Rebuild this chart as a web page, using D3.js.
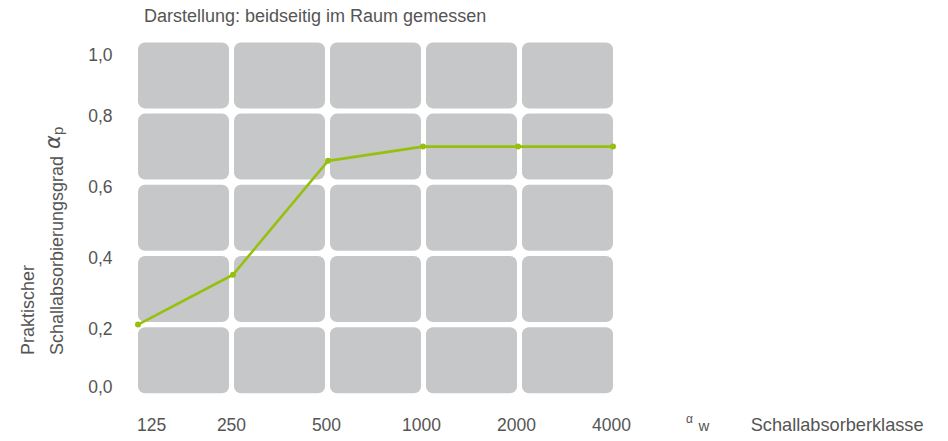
<!DOCTYPE html>
<html>
<head>
<meta charset="utf-8">
<script src="https://cdn.jsdelivr.net/npm/d3@7"></script>
<style>
    body { margin: 0; background: #fff; }
    #chart text { font-family: "Liberation Sans", Arial, sans-serif; fill: #555; }
</style>
</head>
<body>
<div id="chart"></div>
<script>

// data
const frequencies = ["125", "250", "500", "1000", "2000", "4000"]
const alphaP = [0.20, 0.34, 0.66, 0.70, 0.70, 0.70]
const yTicks = [0, 0.2, 0.4, 0.6, 0.8, 1.0]
const chartTitle = "Darstellung: beidseitig im Raum gemessen"
const yTitleLines = ["Praktischer", "Schallabsorbierungsgrad"]
const classLabel = "Schallabsorberklasse"

const CELLGREY = "#c6c7c9"
const LINEGREEN = "#97c00e"

class AbsorptionChart {

    constructor(parentElement) {
        this.parentElement = parentElement
        this.initVis()
    }

    initVis() {
        let vis = this

        vis.width = 948
        vis.height = 441

        vis.svg = d3.select("#" + vis.parentElement).append("svg")
            .attr("width", vis.width)
            .attr("height", vis.height)

        // scales
        vis.x = d3.scalePoint()
            .domain(frequencies)
            .range([138, 613])

        // cells sit in the intervals between the frequencies
        vis.xCells = d3.scaleBand()
            .domain(d3.range(frequencies.length - 1))
            .range([138, 613])
            .paddingInner(5 / 96)

        vis.y = d3.scaleLinear()
            .domain([0, 1])
            .range([395.8, 39.8])

        vis.cellGap = 5.2

        // title
        vis.svg.append("text")
            .attr("x", 144)
            .attr("y", 22)
            .attr("font-size", "18px")
            .text(chartTitle)

        vis.updateVis()
    }

    updateVis() {
        let vis = this

        // background grid of rounded cells
        let rows = d3.pairs(yTicks)
        let cols = vis.xCells.domain()
        let cells = []
        rows.forEach(r => cols.forEach(c => cells.push({ row: r, col: c })))

        vis.svg.append("g")
            .attr("class", "cells")
            .selectAll("rect")
            .data(cells)
            .enter().append("rect")
            .attr("x", d => vis.xCells(d.col))
            .attr("width", vis.xCells.bandwidth())
            .attr("y", d => vis.y(d.row[1]) + vis.cellGap / 2)
            .attr("height", d => vis.y(d.row[0]) - vis.y(d.row[1]) - vis.cellGap)
            .attr("rx", 7)
            .attr("ry", 7)
            .style("fill", CELLGREY)

        // y tick labels (end ones pulled inside the grid)
        vis.svg.append("g")
            .attr("class", "y-labels")
            .selectAll("text")
            .data(yTicks)
            .enter().append("text")
            .attr("x", 112.5)
            .attr("y", d => Math.max(54.3, Math.min(387, vis.y(d) + 4.5)) + 6.3)
            .attr("text-anchor", "end")
            .attr("font-size", "17.5px")
            .text(d => d3.format(".1f")(d).replace(".", ","))

        // x tick labels
        vis.svg.append("g")
            .attr("class", "x-labels")
            .selectAll("text")
            .data(frequencies)
            .enter().append("text")
            .attr("x", (d, i) => i === 0 ? vis.x(d) - 1 : vis.x(d) - 1.5)
            .attr("y", 430.5)
            .attr("text-anchor", (d, i) => i === 0 ? "start" : "middle")
            .attr("font-size", "17.5px")
            .text(d => d)

        // line + points
        let points = frequencies.map((f, i) => ({ f: f, v: alphaP[i] }))

        let line = d3.line()
            .x(d => vis.x(d.f))
            .y(d => vis.y(d.v))

        vis.svg.append("path")
            .datum(points)
            .attr("d", line)
            .attr("fill", "none")
            .attr("stroke", LINEGREEN)
            .attr("stroke-width", 2.6)
            .attr("stroke-linejoin", "round")

        vis.svg.selectAll(".dot")
            .data(points)
            .enter().append("circle")
            .attr("class", "dot")
            .attr("cx", d => vis.x(d.f))
            .attr("cy", d => vis.y(d.v))
            .attr("r", 3)
            .style("fill", LINEGREEN)

        // y axis title, two rotated lines + alpha_p
        let yTitle = vis.svg.append("g")
            .attr("transform", "translate(0, 355) rotate(-90)")

        yTitle.append("text")
            .attr("x", 0)
            .attr("y", 33.5)
            .attr("font-size", "18px")
            .text(yTitleLines[0])

        let second = yTitle.append("text")
            .attr("x", 0)
            .attr("y", 62.5)
            .attr("font-size", "18px")
            .text(yTitleLines[1])

        second.append("tspan")
            .attr("dx", 7)
            .attr("dy", -2.5)
            .attr("font-size", "21px")
            .attr("font-style", "italic")
            .style("font-family", "'DejaVu Sans', sans-serif")
            .text("α")
        second.append("tspan")
            .attr("dy", 2.5)
            .attr("font-size", "15px")
            .text("p")

        // class label bottom right
        vis.svg.append("text")
            .attr("x", 686)
            .attr("y", 422.5)
            .attr("font-size", "12px")
            .text("α")
        vis.svg.append("text")
            .attr("x", 698.5)
            .attr("y", 431)
            .attr("font-size", "15px")
            .text("w")
        vis.svg.append("text")
            .attr("x", 750.7)
            .attr("y", 430.7)
            .attr("font-size", "18.2px")
            .text(classLabel)
    }
}

new AbsorptionChart("chart")

</script>
</body>
</html>
